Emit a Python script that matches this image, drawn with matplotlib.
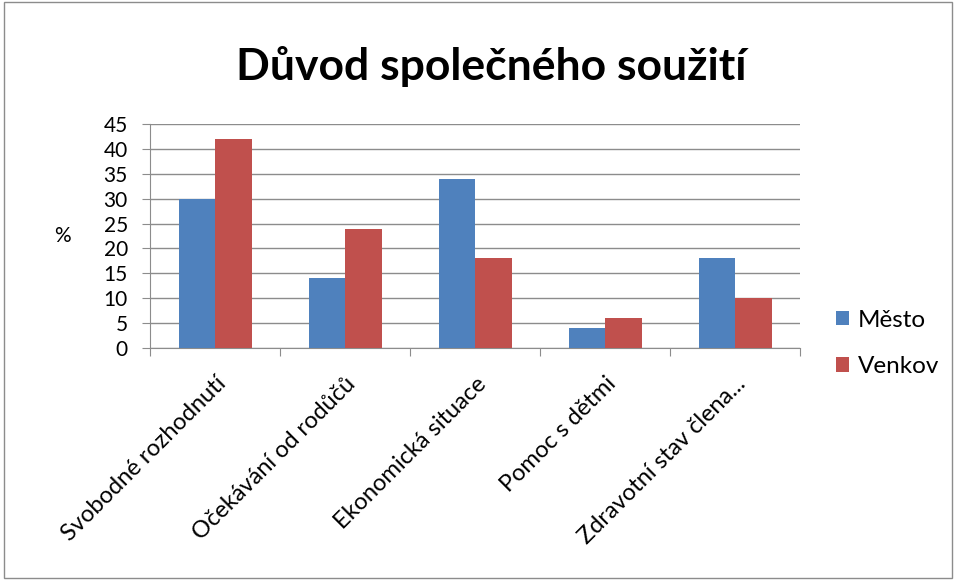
import matplotlib.pyplot as plt
import numpy as np
from matplotlib.patches import Rectangle

plt.rcParams['font.family'] = ['Lato', 'DejaVu Sans']

categories = ["Svobodné rozhodnutí", "Očekávání od rodůčů", "Ekonomická situace",
              "Pomoc s dětmi", "Zdravotní stav člena..."]
mesto = [30, 14, 34, 4, 18]
venkov = [42, 24, 18, 6, 10]
series_names = ["Město", "Venkov"]
colors = ["#4F81BD", "#C0504D"]

fig = plt.figure(figsize=(9.56, 5.8), dpi=100)
ax = fig.add_axes([0.157, 0.40, 0.68, 0.386])

x = np.arange(len(categories))
w = 0.28
ax.bar(x - w / 2, mesto, w, color=colors[0], label=series_names[0], zorder=3)
ax.bar(x + w / 2, venkov, w, color=colors[1], label=series_names[1], zorder=3)

ax.set_xlim(-0.5, len(categories) - 0.5)
ax.set_ylim(0, 45)
ax.set_yticks(range(0, 46, 5))
ax.yaxis.grid(True, color="#8c8c8c", linewidth=1, zorder=0)
ax.set_axisbelow(True)

for s in ["top", "right"]:
    ax.spines[s].set_visible(False)
for s in ["left", "bottom"]:
    ax.spines[s].set_color("#8c8c8c")

ax.set_xticks(np.arange(-0.5, len(categories), 1.0))
ax.set_xticklabels([])
ax.set_xticks(x, minor=True)
ax.set_xticklabels(categories, minor=True, rotation=45, ha="right",
                   rotation_mode="anchor", fontsize=17)
ax.tick_params(axis="x", which="minor", length=0, pad=18)
ax.tick_params(axis="x", which="major", length=6, color="#8c8c8c", direction="out")
ax.tick_params(axis="y", length=6, color="#8c8c8c", labelsize=15, pad=10)

ax.set_ylabel("%", rotation=0, fontsize=15, labelpad=30, va="center")

fig.suptitle("Důvod společného soužití", fontsize=32, fontweight="bold",
             x=0.514, y=0.92)

ax.legend(loc="center left", bbox_to_anchor=(1.055, 0.02), frameon=False,
          fontsize=17.5, handlelength=0.55, handleheight=0.55, labelspacing=1.05,
          handletextpad=0.35, borderaxespad=0, borderpad=0)

fig.patches.append(Rectangle((0.004, 0.004), 0.992, 0.992, transform=fig.transFigure,
                             fill=False, edgecolor="#8c8c8c", linewidth=1))

fig.savefig("out.png", dpi=100)
